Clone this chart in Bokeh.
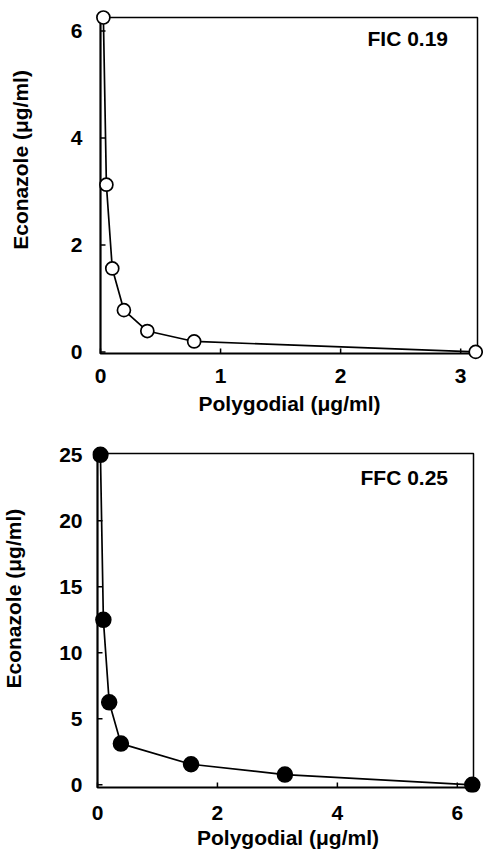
import math
from bokeh.plotting import figure
from bokeh.layouts import column, row
from bokeh.models import Label, FixedTicker, Range1d
from bokeh.core.properties import value
from bokeh.embed import file_html
from bokeh.resources import INLINE

# Top panel (FIC)
poly_fic = [0.024, 0.049, 0.098, 0.195, 0.39, 0.78, 3.125]
econ_fic = [6.25, 3.125, 1.56, 0.78, 0.39, 0.195, 0.0]
xticks_fic = [0, 1, 2, 3]
yticks_fic = [0, 2, 4, 6]
label_fic = "FIC 0.19"

# Bottom panel (FFC)
poly_ffc = [0.049, 0.098, 0.195, 0.39, 1.56, 3.125, 6.25]
econ_ffc = [25.0, 12.5, 6.25, 3.125, 1.56, 0.78, 0.0]
xticks_ffc = [0, 2, 4, 6]
yticks_ffc = [0, 5, 10, 15, 20, 25]
label_ffc = "FFC 0.25"

x_title = "Polygodial (\u03bcg/ml)"
y_title = "Econazole (\u03bcg/ml)"

FONT = "Liberation Sans"
TITLE_W = 40  # width of the strip that carries the rotated y title


def make_panel(xs, ys, box_x, box_y, box_px, pads, xt, yt, h, top_px,
               filled, ann, ann_px, ytitle_x, ylab_gap, xlab_gap, xtitle_stand):
    # box_px: (left, right, top, bottom) of the plotted box in page pixels
    # pads: (left, right, top, bottom) extra pixels around the box for markers
    bl, br, bt, bb = box_px
    pl, pr, pt, pb = pads
    sx = (box_x[1] - box_x[0]) / (br - bl)
    sy = (box_y[1] - box_y[0]) / (bb - bt)
    xr = (box_x[0] - pl * sx, box_x[1] + pr * sx)
    yr = (box_y[0] - pb * sy, box_y[1] + pt * sy)
    frame_left = bl - pl
    frame_top = (bt - top_px) - pt
    frame_bottom = (bb - top_px) + pb
    p = figure(width=483 - TITLE_W, height=h,
               x_range=Range1d(*xr), y_range=Range1d(*yr),
               output_backend="svg", toolbar_location=None,
               min_border_left=frame_left - TITLE_W,
               min_border_right=483 - (br + pr),
               min_border_top=frame_top,
               min_border_bottom=h - frame_bottom)
    p.xgrid.visible = False
    p.ygrid.visible = False
    p.outline_line_color = None
    p.background_fill_color = "white"
    p.border_fill_color = "white"
    for ax in (p.xaxis[0], p.yaxis[0]):
        ax.axis_line_color = None
        ax.major_tick_in = 0
        ax.major_tick_out = 0
        ax.minor_tick_in = 0
        ax.minor_tick_out = 0
        ax.major_label_text_font = FONT
        ax.major_label_text_font_style = "bold"
        ax.major_label_text_font_size = "21px"
        ax.major_label_text_color = "black"
        ax.axis_label_text_font = FONT
        ax.axis_label_text_font_style = "bold"
        ax.axis_label_text_font_size = "21px"
        ax.axis_label_text_color = "black"
    p.xaxis[0].ticker = FixedTicker(ticks=xt)
    p.yaxis[0].ticker = FixedTicker(ticks=yt)
    p.xaxis[0].axis_label = x_title
    p.yaxis[0].major_label_standoff = ylab_gap
    p.xaxis[0].major_label_standoff = xlab_gap
    p.xaxis[0].axis_label_standoff = xtitle_stand

    # box: thick left/bottom axes, thinner top/right frame
    p.line([box_x[0], box_x[0], box_x[1]], [box_y[1], box_y[0], box_y[0]],
           line_color="black", line_width=2.2)
    p.line([box_x[0], box_x[1], box_x[1]], [box_y[1], box_y[1], box_y[0]],
           line_color="black", line_width=1.5)
    # inward tick marks (5 px long) on the box edges
    tl = 5
    p.segment(x0=xt, y0=[box_y[0]] * len(xt), x1=xt,
              y1=[box_y[0] + tl * sy] * len(xt),
              line_color="black", line_width=1.5)
    p.segment(x0=[box_x[0]] * len(yt), y0=yt,
              x1=[box_x[0] + tl * sx] * len(yt), y1=yt,
              line_color="black", line_width=1.5)

    p.line(xs, ys, line_color="black", line_width=1.7)
    if filled:
        p.scatter(xs, ys, size=15, fill_color="black", line_color="black",
                  line_width=1.5)
    else:
        p.scatter(xs, ys, size=13, fill_color="white", line_color="black",
                  line_width=1.7)
    p.add_layout(Label(x=ann_px[0] - frame_left,
                       y=frame_bottom - (ann_px[1] - top_px),
                       x_units="screen", y_units="screen", text=ann,
                       text_font=FONT, text_font_style="bold",
                       text_font_size="21px", text_color="black",
                       text_baseline="middle"))

    # strip on the left with the rotated y-axis title (pixel-unit ranges)
    t = figure(width=TITLE_W, height=h, x_range=Range1d(0, TITLE_W),
               y_range=Range1d(0, h), output_backend="svg",
               toolbar_location=None, min_border=0)
    t.axis.visible = False
    t.grid.visible = False
    t.outline_line_color = None
    t.background_fill_color = "white"
    t.border_fill_color = "white"
    t.text(x=[ytitle_x], y=[h - ((bt + bb) / 2 - top_px)], text=[y_title],
           angle=math.pi / 2, text_align="center", text_baseline="middle",
           text_font=value(FONT), text_font_style="bold",
           text_font_size="21px", text_color="black")
    return row(t, p, spacing=0)


top = make_panel(poly_fic, econ_fic, (0.0, 3.14), (-0.03, 6.25),
                 (100, 477, 17, 353), (5, 6, 9, 7),
                 xticks_fic, yticks_fic, 430, 0, False,
                 label_fic, (367, 38), 20, 13, 8, 6)
bottom = make_panel(poly_ffc, econ_ffc, (0.0, 6.27), (-0.2, 25.1),
                    (97, 473, 453, 787), (5, 10, 9, 5),
                    xticks_ffc, yticks_ffc, 429, 430, True,
                    label_ffc, (360, 477), 13, 10, 13, 3)

layout = column(top, bottom, spacing=0)
open("out.html", "w").write(file_html(layout, INLINE))
